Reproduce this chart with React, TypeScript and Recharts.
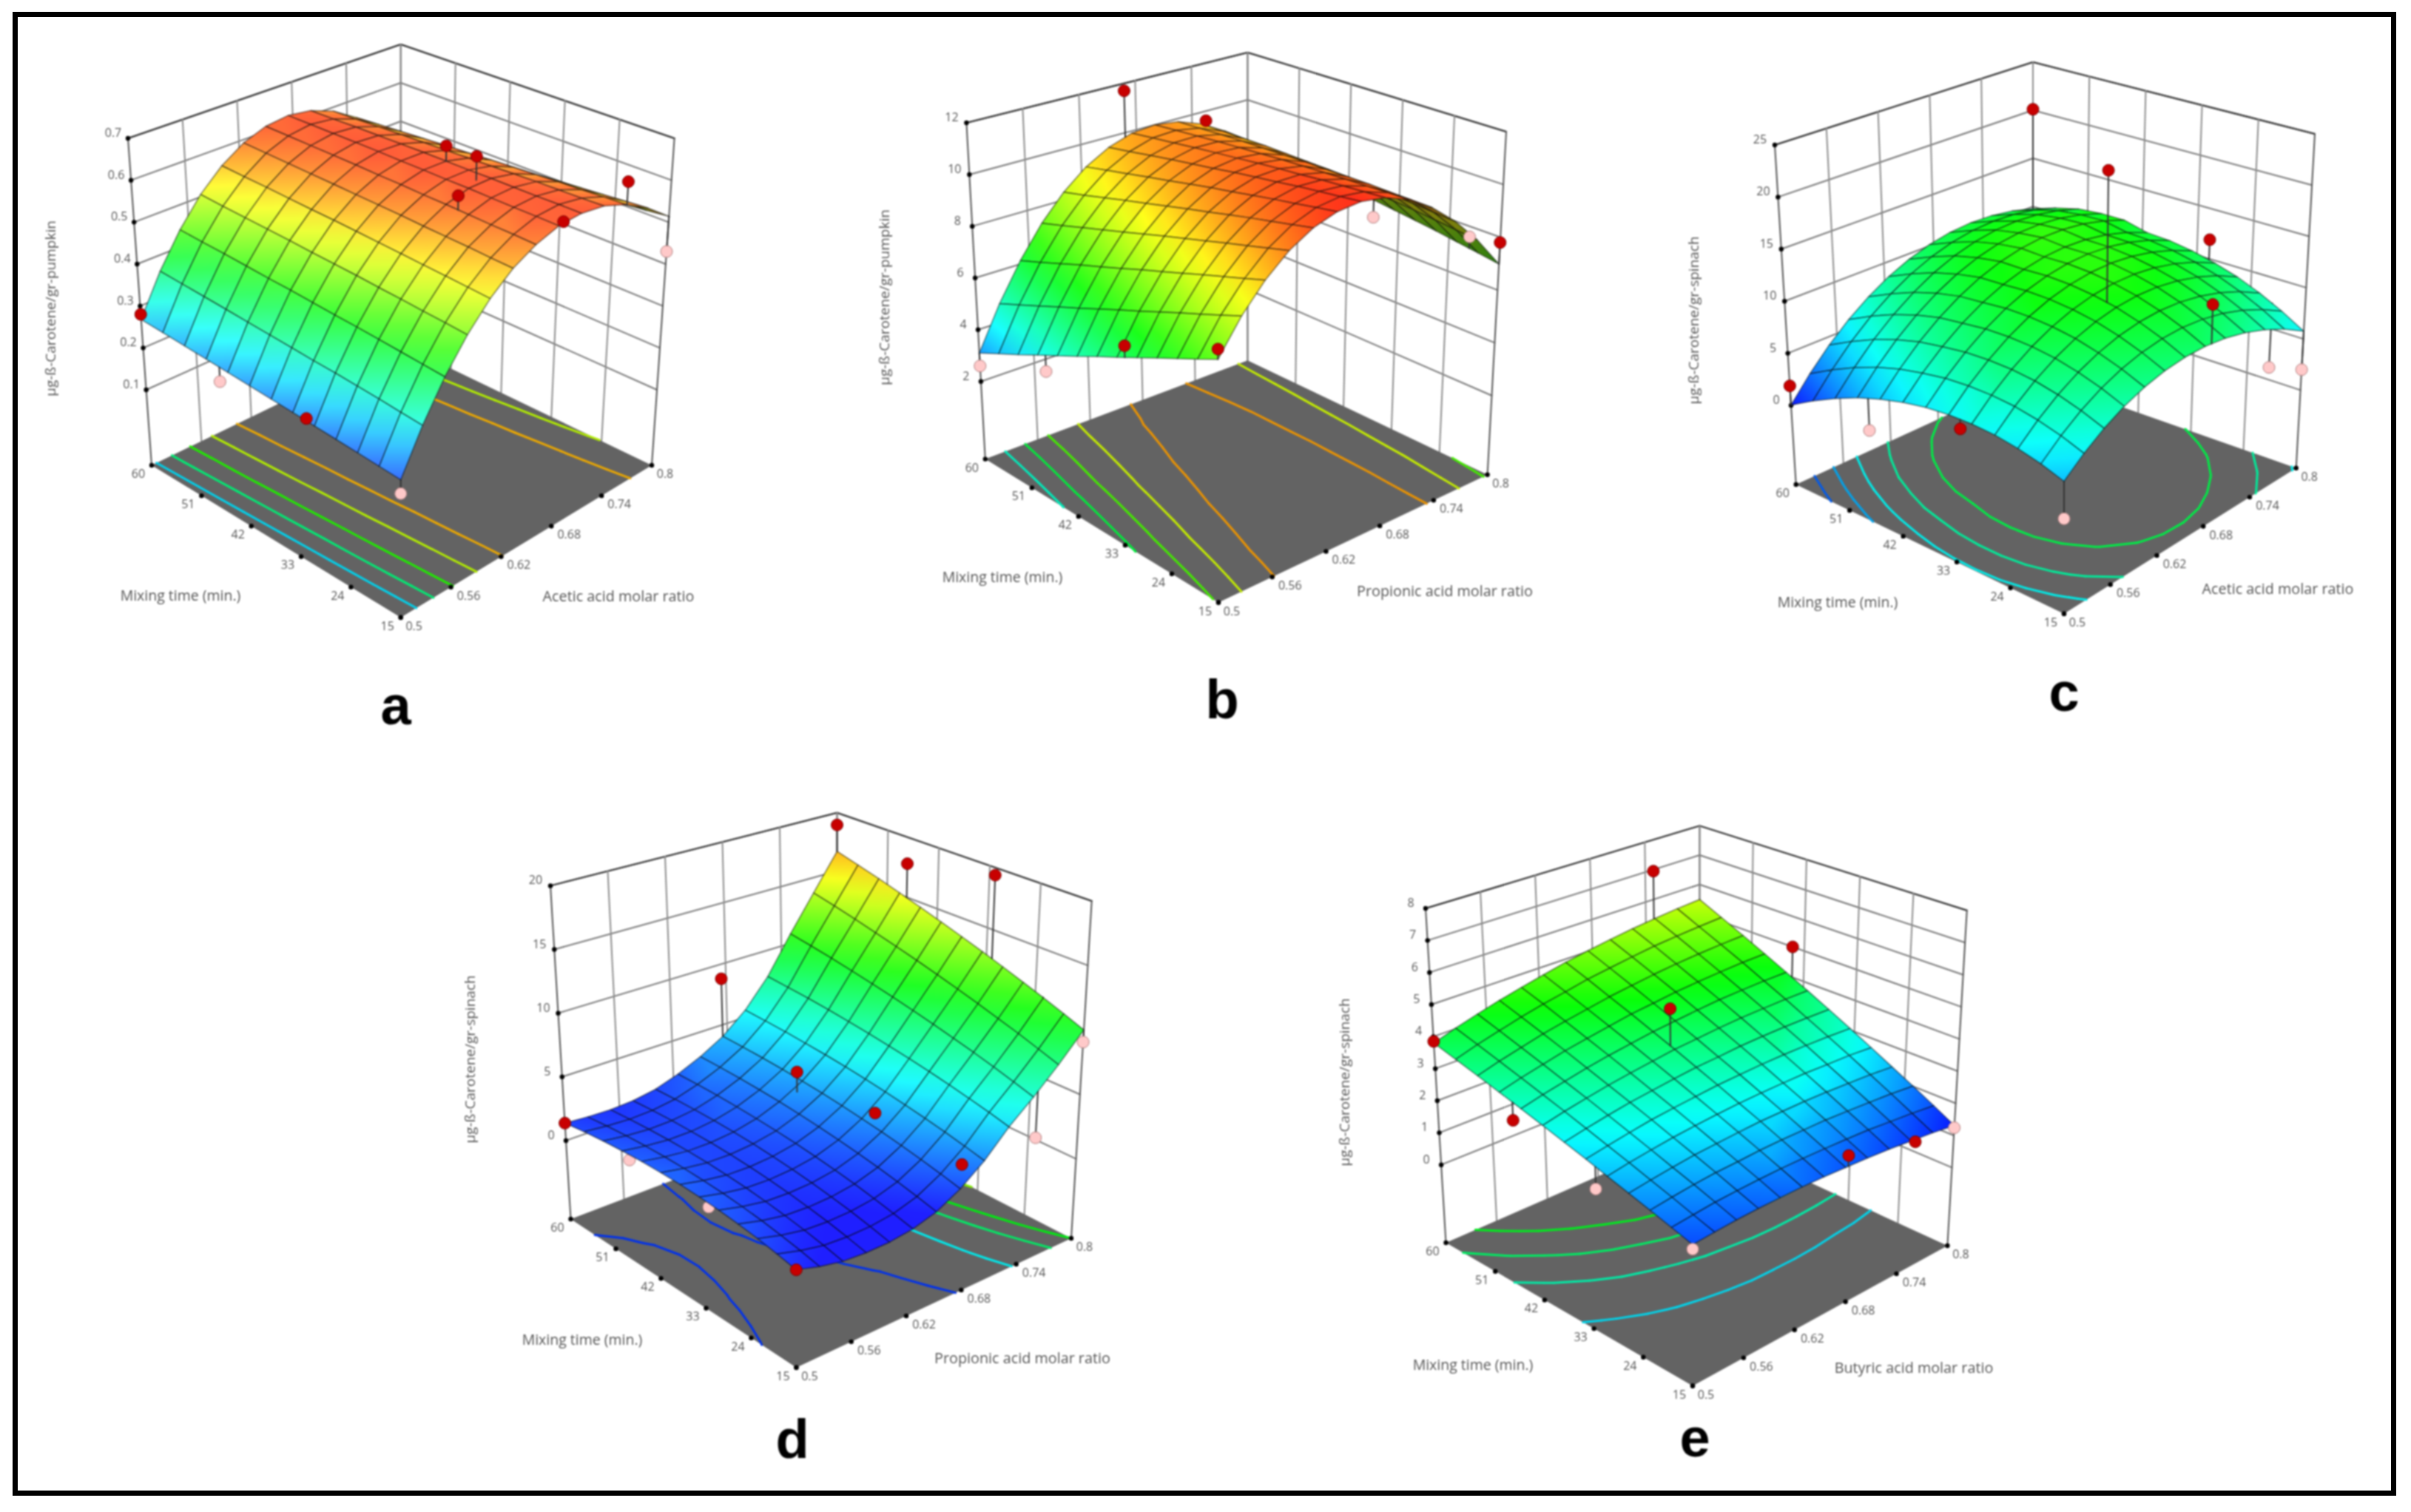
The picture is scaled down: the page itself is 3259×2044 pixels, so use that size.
import { ScatterChart, Scatter, XAxis, YAxis } from 'recharts';

const W = 3259;
const H = 2044;

// surface nodes, same for all panels
const ratioNodes = [0.5, 0.525, 0.55, 0.575, 0.6, 0.625, 0.65, 0.675, 0.7, 0.725, 0.75, 0.775, 0.8];
const timeNodes = [15, 18.75, 22.5, 26.25, 30, 33.75, 37.5, 41.25, 45, 48.75, 52.5, 56.25, 60];
const ratioTicks = [0.5, 0.56, 0.62, 0.68, 0.74, 0.8];
const ratioLabels = ['0.5', '0.56', '0.62', '0.68', '0.74', '0.8'];
const timeTicks = [15, 24, 33, 42, 51, 60];

// one row per mixing time, one column per molar ratio
const surfaceA = [
  [0.22, 0.314, 0.396, 0.465, 0.522, 0.566, 0.596, 0.615, 0.62, 0.613, 0.592, 0.559, 0.514],
  [0.224, 0.318, 0.4, 0.469, 0.525, 0.568, 0.598, 0.616, 0.62, 0.611, 0.59, 0.555, 0.508],
  [0.228, 0.323, 0.404, 0.472, 0.528, 0.571, 0.599, 0.616, 0.619, 0.61, 0.587, 0.551, 0.503],
  [0.232, 0.327, 0.408, 0.476, 0.531, 0.573, 0.601, 0.617, 0.619, 0.609, 0.585, 0.547, 0.497],
  [0.236, 0.331, 0.412, 0.479, 0.534, 0.575, 0.603, 0.618, 0.619, 0.607, 0.582, 0.543, 0.491],
  [0.24, 0.334, 0.415, 0.483, 0.537, 0.578, 0.604, 0.618, 0.618, 0.605, 0.579, 0.538, 0.485],
  [0.244, 0.338, 0.419, 0.486, 0.54, 0.58, 0.606, 0.619, 0.618, 0.603, 0.576, 0.534, 0.479],
  [0.248, 0.342, 0.423, 0.489, 0.543, 0.582, 0.607, 0.619, 0.618, 0.601, 0.572, 0.529, 0.472],
  [0.252, 0.346, 0.426, 0.493, 0.545, 0.584, 0.609, 0.62, 0.617, 0.599, 0.569, 0.524, 0.465],
  [0.256, 0.35, 0.43, 0.496, 0.548, 0.586, 0.61, 0.62, 0.616, 0.597, 0.565, 0.519, 0.458],
  [0.26, 0.354, 0.434, 0.499, 0.551, 0.588, 0.611, 0.62, 0.615, 0.595, 0.561, 0.513, 0.45],
  [0.264, 0.358, 0.437, 0.502, 0.553, 0.59, 0.612, 0.62, 0.613, 0.592, 0.557, 0.507, 0.443],
  [0.268, 0.362, 0.441, 0.506, 0.556, 0.592, 0.613, 0.62, 0.612, 0.59, 0.553, 0.501, 0.435],
];
const surfaceB = [
  [7.29, 8.48, 9.44, 10.19, 10.71, 11.01, 11.1, 10.96, 10.61, 10.03, 9.23, 8.22, 6.98],
  [6.97, 8.2, 9.19, 9.98, 10.54, 10.88, 11.0, 10.9, 10.59, 10.04, 9.28, 8.31, 7.11],
  [6.65, 7.91, 8.95, 9.77, 10.37, 10.74, 10.91, 10.84, 10.56, 10.05, 9.34, 8.4, 7.23],
  [6.33, 7.63, 8.7, 9.56, 10.2, 10.61, 10.81, 10.78, 10.54, 10.07, 9.39, 8.49, 7.36],
  [5.99, 7.33, 8.44, 9.33, 10.01, 10.46, 10.69, 10.7, 10.5, 10.07, 9.42, 8.56, 7.47],
  [5.65, 7.02, 8.17, 9.11, 9.81, 10.3, 10.58, 10.63, 10.46, 10.06, 9.46, 8.63, 7.58],
  [5.31, 6.72, 7.91, 8.88, 9.62, 10.15, 10.46, 10.55, 10.42, 10.06, 9.49, 8.7, 7.69],
  [4.95, 6.4, 7.62, 8.63, 9.41, 9.98, 10.32, 10.45, 10.36, 10.04, 9.5, 8.75, 7.78],
  [4.59, 6.07, 7.34, 8.38, 9.2, 9.8, 10.19, 10.36, 10.3, 10.02, 9.52, 8.8, 7.87],
  [4.23, 5.75, 7.06, 8.13, 8.99, 9.63, 10.05, 10.26, 10.24, 10.0, 9.54, 8.85, 7.96],
  [3.85, 5.41, 6.75, 7.87, 8.76, 9.44, 9.9, 10.14, 10.16, 9.96, 9.53, 8.89, 8.03],
  [3.48, 5.07, 6.44, 7.6, 8.53, 9.25, 9.74, 10.03, 10.08, 9.91, 9.53, 8.92, 8.1],
  [3.1, 4.73, 6.14, 7.34, 8.31, 9.06, 9.59, 9.91, 10.0, 9.87, 9.52, 8.96, 8.17],
];
const surfaceC = [
  [4.29, 5.8, 7.06, 8.07, 8.82, 9.32, 9.57, 9.57, 9.31, 8.8, 8.03, 7.02, 5.75],
  [4.96, 6.52, 7.83, 8.89, 9.69, 10.24, 10.54, 10.59, 10.38, 9.92, 9.2, 8.24, 7.02],
  [5.44, 7.06, 8.42, 9.53, 10.38, 10.98, 11.33, 11.43, 11.27, 10.86, 10.2, 9.29, 8.12],
  [5.76, 7.43, 8.84, 10.0, 10.9, 11.55, 11.95, 12.1, 11.99, 11.63, 11.02, 10.16, 9.04],
  [5.86, 7.58, 9.04, 10.25, 11.2, 11.9, 12.35, 12.55, 12.49, 12.18, 11.62, 10.81, 9.74],
  [5.79, 7.55, 9.06, 10.32, 11.33, 12.08, 12.58, 12.83, 12.83, 12.57, 12.06, 11.3, 10.28],
  [5.55, 7.36, 8.92, 10.23, 11.29, 12.09, 12.64, 12.94, 12.99, 12.78, 12.32, 11.61, 10.64],
  [5.09, 6.95, 8.56, 9.92, 11.03, 11.88, 12.48, 12.83, 12.93, 12.77, 12.36, 11.7, 10.78],
  [4.45, 6.41, 8.13, 9.59, 10.79, 11.75, 12.45, 12.9, 13.1, 13.04, 12.74, 12.17, 11.36],
  [3.64, 5.67, 7.45, 8.98, 10.25, 11.27, 12.04, 12.56, 12.82, 12.83, 12.6, 12.09, 11.35],
  [2.61, 4.71, 6.57, 8.16, 9.49, 10.59, 11.42, 12.0, 12.34, 12.41, 12.24, 11.81, 11.13],
  [1.41, 3.55, 5.46, 7.11, 8.49, 9.64, 10.52, 11.15, 11.54, 11.67, 11.54, 11.17, 10.54],
  [0.03, 2.23, 4.19, 5.88, 7.32, 8.52, 9.45, 10.13, 10.57, 10.75, 10.67, 10.35, 9.77],
];
const surfaceD = [
  [1.2, 0.65, 0.25, 0.1, 0.1, 0.3, 0.8, 1.75, 3.1, 4.9, 6.4, 8.1, 10.0],
  [1.49, 0.96, 0.57, 0.43, 0.44, 0.64, 1.15, 2.1, 3.45, 5.27, 6.86, 8.63, 10.61],
  [1.74, 1.22, 0.85, 0.72, 0.74, 0.95, 1.47, 2.41, 3.77, 5.61, 7.31, 9.16, 11.21],
  [1.93, 1.44, 1.08, 0.96, 1.0, 1.23, 1.76, 2.7, 4.06, 5.93, 7.73, 9.65, 11.79],
  [2.07, 1.61, 1.27, 1.17, 1.22, 1.47, 2.02, 2.96, 4.33, 6.22, 8.13, 10.15, 12.37],
  [2.16, 1.73, 1.42, 1.33, 1.41, 1.67, 2.25, 3.19, 4.58, 6.5, 8.52, 10.63, 12.94],
  [2.2, 1.8, 1.52, 1.45, 1.55, 1.85, 2.45, 3.4, 4.8, 6.75, 8.9, 11.1, 13.5],
  [2.19, 1.83, 1.58, 1.53, 1.66, 1.99, 2.62, 3.58, 5.0, 6.98, 9.26, 11.56, 14.05],
  [2.13, 1.81, 1.59, 1.57, 1.72, 2.1, 2.76, 3.73, 5.17, 7.19, 9.6, 12.01, 14.6],
  [2.01, 1.74, 1.56, 1.56, 1.75, 2.18, 2.86, 3.85, 5.31, 7.38, 9.93, 12.45, 15.14],
  [1.85, 1.62, 1.48, 1.52, 1.74, 2.22, 2.94, 3.95, 5.44, 7.55, 10.24, 12.89, 15.68],
  [1.64, 1.46, 1.36, 1.43, 1.69, 2.23, 2.99, 4.01, 5.53, 7.68, 10.53, 13.3, 16.19],
  [1.37, 1.25, 1.2, 1.3, 1.6, 2.2, 3.0, 4.05, 5.6, 7.8, 10.8, 13.7, 16.7],
];
const surfaceE = [
  [1.63, 1.68, 1.72, 1.74, 1.74, 1.74, 1.72, 1.68, 1.64, 1.58, 1.5, 1.42, 1.31],
  [1.81, 1.87, 1.93, 1.96, 1.98, 1.99, 1.98, 1.96, 1.93, 1.89, 1.82, 1.75, 1.66],
  [1.99, 2.07, 2.14, 2.19, 2.21, 2.24, 2.25, 2.24, 2.23, 2.19, 2.14, 2.09, 2.01],
  [2.17, 2.26, 2.34, 2.41, 2.45, 2.49, 2.52, 2.52, 2.52, 2.5, 2.46, 2.42, 2.35],
  [2.35, 2.46, 2.55, 2.63, 2.69, 2.74, 2.78, 2.8, 2.81, 2.81, 2.78, 2.76, 2.7],
  [2.54, 2.65, 2.76, 2.86, 2.93, 2.99, 3.05, 3.08, 3.11, 3.12, 3.11, 3.09, 3.05],
  [2.72, 2.85, 2.97, 3.08, 3.16, 3.24, 3.31, 3.35, 3.4, 3.42, 3.43, 3.42, 3.4],
  [2.9, 3.05, 3.18, 3.3, 3.4, 3.49, 3.58, 3.63, 3.69, 3.73, 3.75, 3.76, 3.75],
  [3.08, 3.24, 3.38, 3.52, 3.64, 3.74, 3.84, 3.91, 3.98, 4.04, 4.07, 4.09, 4.09],
  [3.26, 3.44, 3.59, 3.75, 3.87, 3.99, 4.11, 4.19, 4.28, 4.34, 4.39, 4.43, 4.44],
  [3.44, 3.63, 3.8, 3.97, 4.11, 4.24, 4.37, 4.47, 4.57, 4.65, 4.71, 4.76, 4.79],
  [3.62, 3.83, 4.01, 4.19, 4.35, 4.49, 4.64, 4.75, 4.86, 4.96, 5.03, 5.09, 5.14],
  [3.8, 4.02, 4.22, 4.41, 4.58, 4.74, 4.9, 5.03, 5.15, 5.26, 5.35, 5.43, 5.49],
];

// design points: ratio, time, response, 1 = drawn over the surface, 1 = red / 0 = pink
const pointsA = [
  [0.5, 60, 0.28, 1, 1], [0.5, 46.5, 0.22, 0, 0], [0.5, 31.4, 0.243, 1, 1], [0.5, 15, 0.19, 0, 0],
  [0.65, 28, 0.635, 1, 1], [0.68, 15, 0.62, 1, 1], [0.7, 37.5, 0.655, 1, 1], [0.69, 31, 0.675, 1, 1],
  [0.725, 48.75, 0.54, 0, 1], [0.8, 22, 0.56, 1, 1], [0.8, 15, 0.43, 0, 0],
];
const pointsB = [
  [0.668, 60, 11.7, 0, 1], [0.755, 60, 9.6, 1, 1], [0.8, 37.5, 7.0, 0, 0], [0.8, 20.4, 7.6, 1, 0],
  [0.8, 15, 7.8, 1, 1], [0.5, 32.3, 6.2, 1, 1], [0.5, 15, 7.64, 1, 1], [0.5, 60, 2.6, 0, 0], [0.5, 47.3, 3.77, 0, 0],
];
const pointsC = [
  [0.8, 60, 20.1, 0, 1], [0.65, 27.75, 24.7, 1, 1], [0.8, 31, 11.9, 0, 1], [0.683, 15, 13.2, 1, 1],
  [0.8, 20.4, 1.2, 0, 0], [0.8, 15, 2.0, 0, 0], [0.5, 15, 0.93, 0, 0], [0.5, 31.9, 4.95, 1, 1],
  [0.5, 60, 1.87, 1, 1], [0.5, 47, 1.0, 0, 0],
];
const pointsD = [
  [0.8, 60, 18.96, 0, 1], [0.8, 47.5, 17.8, 0, 1], [0.8, 32, 19.4, 0, 1], [0.675, 60, 8.8, 0, 1],
  [0.665, 44.25, 4.9, 1, 1], [0.685, 33, 3.5, 1, 1], [0.689, 17.25, 2.7, 1, 1], [0.5, 15, 1.2, 1, 1],
  [0.5, 60, 1.37, 1, 1], [0.5, 47.4, 1.65, 0, 0], [0.5, 32, 1.82, 0, 0], [0.8, 15, 9.06, 1, 0], [0.8, 22.65, 0.15, 0, 0],
];
const pointsE = [
  [0.749, 60, 6.95, 0, 1], [0.8, 44, 5.0, 0, 1], [0.65, 42, 4.8, 1, 1], [0.5, 60, 3.85, 1, 1],
  [0.5, 46.5, 2.6, 1, 1], [0.5, 32.1, 1.79, 0, 0], [0.5, 15, 1.5, 1, 0], [0.678, 15, 2.0, 1, 1],
  [0.755, 15, 1.41, 1, 1], [0.8, 15, 1.24, 1, 0],
];

const panels = [
  {
    letter: 'a', letterAt: [535, 977], surface: surfaceA, points: pointsA, zRange: [-0.08, 0.7], colorRange: [0.19, 0.64], tint: 0.22,
    zTicks: [0.1, 0.2, 0.3, 0.4, 0.5, 0.6, 0.7], levels: [0.29, 0.36, 0.43, 0.5, 0.56],
    zTitle: 'µg-ß-Carotene/gr-pumpkin', xTitle: 'Acetic acid molar ratio',
    zAt: [68, 417], timeAt: [244, 804], xAt: [836, 805],
    floor: [[541.7, 834.8], [881, 629], [205, 629], [541.7, 465.6]],
    top: [[541.7, 351], [911.6, 187], [173, 187], [541.7, 60]],
  },
  {
    letter: 'b', letterAt: [1652, 969], surface: surfaceB, points: pointsB, zRange: [-1, 12], colorRange: [1.7, 11.3], tint: 0.1,
    zTicks: [2, 4, 6, 8, 10, 12], levels: [4.6, 5.9, 7.2, 8.5, 9.8],
    zTitle: 'µg-ß-Carotene/gr-pumpkin', xTitle: 'Propionic acid molar ratio',
    zAt: [1195, 402], timeAt: [1355, 779], xAt: [1953, 798],
    floor: [[1647, 814.5], [2010.6, 641.8], [1331.8, 620.6], [1686.4, 487.3]],
    top: [[1646, 299], [2036, 178], [1306.4, 166], [1686.4, 71]],
  },
  {
    letter: 'c', letterAt: [2790, 959], surface: surfaceC, points: pointsC, zRange: [-7.6, 25], colorRange: [-0.3, 24.6], tint: 0.05,
    zTicks: [0, 5, 10, 15, 20, 25], levels: [2.1, 4, 6, 8.1, 10.3],
    zTitle: 'µg-ß-Carotene/gr-spinach', xTitle: 'Acetic acid molar ratio',
    zAt: [2289, 433], timeAt: [2484, 813], xAt: [3079, 795],
    floor: [[2790, 829.7], [3103.7, 632.7], [2427.7, 655], [2748, 508]],
    top: [[2790, 339], [3129, 181], [2399, 196], [2748, 84]],
  },
  {
    letter: 'd', letterAt: [1071, 1969], surface: surfaceD, points: pointsD, zRange: [-6.16, 20], colorRange: [0.7, 20], tint: 0.12,
    zTicks: [0, 5, 10, 15, 20], levels: [1.7, 5.5, 8.3, 10, 13],
    zTitle: 'µg-ß-Carotene/gr-spinach', xTitle: 'Propionic acid molar ratio',
    zAt: [635, 1432], timeAt: [787, 1810], xAt: [1382, 1835],
    floor: [[1076.4, 1848.8], [1448, 1674], [771.5, 1648], [1131.5, 1511]],
    top: [[1076, 1379], [1475.7, 1218], [744, 1197.4], [1131.5, 1098.8]],
  },
  {
    letter: 'e', letterAt: [2291, 1967], surface: surfaceE, points: pointsE, zRange: [-2.43, 8], colorRange: [1.2, 7.4], tint: 0.03,
    zTicks: [0, 1, 2, 3, 4, 5, 6, 7, 8], levels: [2.6, 3.2, 3.65, 4.1],
    zTitle: 'µg-ß-Carotene/gr-spinach', xTitle: 'Butyric acid molar ratio',
    zAt: [1817, 1463], timeAt: [1991, 1844], xAt: [2587, 1848],
    floor: [[2288, 1873.5], [2632.4, 1684], [1954.5, 1680], [2297.5, 1530]],
    top: [[2288, 1383], [2658.7, 1230.8], [1927, 1228], [2297.4, 1116.4]],
  },
];

const ramp = [[0, 0, 255], [0, 255, 255], [0, 255, 0], [255, 255, 0], [255, 0, 0]];

function colorAt(t: number, dim = 1, tint = 0) {
  const s = Math.max(0, Math.min(0.9999, t)) * 4;
  const i = Math.floor(s);
  const f = s - i;
  const c = ramp[i].map((a, k) => Math.round((a + (ramp[i + 1][k] - a) * f + (255 - (a + (ramp[i + 1][k] - a) * f)) * tint) * dim));
  return `rgb(${c[0]},${c[1]},${c[2]})`;
}

function bilinear(c: number[][], u: number, v: number) {
  return [0, 1].map(
    (k) => c[0][k] * (1 - u) * (1 - v) + c[1][k] * u * (1 - v) + c[2][k] * (1 - u) * v + c[3][k] * u * v,
  );
}

// one panel to page coordinates, corners of its box
function projector(p: any) {
  return (ratio: number, time: number, value: number) => {
    const u = (ratio - 0.5) / 0.3;
    const v = (time - 15) / 45;
    const w = (value - p.zRange[0]) / (p.zRange[1] - p.zRange[0]);
    const a = bilinear(p.floor, u, v);
    const b = bilinear(p.top, u, v);
    return [a[0] + (b[0] - a[0]) * w, a[1] + (b[1] - a[1]) * w];
  };
}

function seg(a: number[], b: number[], stroke: string, width: number) {
  return { x: a[0], y: a[1], dx: b[0] - a[0], dy: b[1] - a[1], stroke, width };
}

function signedArea(q: number[][]) {
  let s = 0;
  q.forEach((a, i) => {
    const b = q[(i + 1) % q.length];
    s += a[0] * b[1] - b[0] * a[1];
  });
  return s;
}

function surfaceAt(p: any, ratio: number, time: number) {
  const a = (ratio - 0.5) / 0.025;
  const b = (time - 15) / 3.75;
  const i = Math.min(11, Math.floor(a));
  const j = Math.min(11, Math.floor(b));
  const f = a - i;
  const g = b - j;
  const r = p.surface;
  return r[j][i] * (1 - f) * (1 - g) + r[j][i + 1] * f * (1 - g) + r[j + 1][i] * (1 - f) * g + r[j + 1][i + 1] * f * g;
}

function buildPanel(p: any) {
  const pr = projector(p);
  const [z0, z1] = p.zRange;
  const tVal = (z: number) => (z - p.colorRange[0]) / (p.colorRange[1] - p.colorRange[0]);
  const color = (z: number, dim = 1) => colorAt(tVal(z), dim, p.tint);

  // walls
  const walls: any[] = [];
  const texts: any[] = [];
  const dots: any[] = [];
  p.zTicks.concat([z0, z1]).forEach((z: number) => {
    const col = z === z1 ? '#3a3a3a' : '#777';
    if (z !== z0) {
      walls.push(seg(pr(0.5, 60, z), pr(0.8, 60, z), col, 2));
      walls.push(seg(pr(0.8, 60, z), pr(0.8, 15, z), col, 2));
    }
  });
  ratioTicks.forEach((r) => walls.push(seg(pr(r, 60, z0), pr(r, 60, z1), r === 0.5 || r === 0.8 ? '#555' : '#8c8c8c', 2)));
  timeTicks.forEach((t) => walls.push(seg(pr(0.8, t, z0), pr(0.8, t, z1), t === 15 ? '#555' : '#8c8c8c', 2)));

  p.zTicks.forEach((z: number) => {
    const a = pr(0.5, 60, z);
    dots.push({ x: a[0], y: a[1], r: 3.2, fill: '#000', stroke: 'none' });
    texts.push({ x: a[0] - 20, y: a[1] - 8, text: String(z), size: 16 });
  });
  timeTicks.forEach((t) => {
    const a = pr(0.5, t, z0);
    dots.push({ x: a[0], y: a[1], r: 3.2, fill: '#000', stroke: 'none' });
    texts.push({ x: a[0] - 18, y: a[1] + 11, text: String(t), size: 16 });
  });
  ratioTicks.forEach((r, i) => {
    const a = pr(r, 15, z0);
    dots.push({ x: a[0], y: a[1], r: 3.2, fill: '#000', stroke: 'none' });
    texts.push({ x: a[0] + (i === 0 || i === 5 ? 18 : 24), y: a[1] + 11, text: ratioLabels[i], size: 16 });
  });
  texts.push({ x: p.zAt[0], y: p.zAt[1], text: p.zTitle, size: 19, rotate: -90 });
  texts.push({ x: p.timeAt[0], y: p.timeAt[1], text: 'Mixing time (min.)', size: 19.5 });
  texts.push({ x: p.xAt[0], y: p.xAt[1], text: p.xTitle, size: 19.8 });
  texts.push({
    x: p.letterAt[0], y: p.letterAt[1] - 24, text: p.letter, size: 74, weight: 700, fill: '#000', family: 'Liberation Sans',
  });

  const floorPts = [pr(0.5, 15, z0), pr(0.8, 15, z0), pr(0.8, 60, z0), pr(0.5, 60, z0)];
  const floorSign = Math.sign(signedArea(floorPts));
  const floor = [{
    x: floorPts[0][0], y: floorPts[0][1],
    pts: floorPts.map((q) => [q[0] - floorPts[0][0], q[1] - floorPts[0][1]]),
    fill: '#636363', stroke: 'none',
  }];

  // contour lines on the floor, from the surface values
  const contours: any[] = [];
  p.levels.forEach((lv: number) => {
    const col = colorAt(tVal(lv), 0.92);
    for (let j = 0; j < 12; j++) {
      for (let i = 0; i < 12; i++) {
        const cell = [
          [ratioNodes[i], timeNodes[j], p.surface[j][i]],
          [ratioNodes[i + 1], timeNodes[j], p.surface[j][i + 1]],
          [ratioNodes[i + 1], timeNodes[j + 1], p.surface[j + 1][i + 1]],
          [ratioNodes[i], timeNodes[j + 1], p.surface[j + 1][i]],
        ];
        const cross: number[][] = [];
        cell.forEach((a, k) => {
          const b = cell[(k + 1) % 4];
          if (a[2] >= lv !== b[2] >= lv) {
            const f = (lv - a[2]) / (b[2] - a[2]);
            cross.push(pr(a[0] + (b[0] - a[0]) * f, a[1] + (b[1] - a[1]) * f, z0));
          }
        });
        if (cross.length >= 2) contours.push(seg(cross[0], cross[1], col, 3));
        if (cross.length === 4) contours.push(seg(cross[2], cross[3], col, 3));
      }
    }
  });

  // surface cells, far corner first
  const cells: any[] = [];
  for (let j = 0; j < 12; j++) {
    for (let i = 0; i < 12; i++) {
      const zs = [p.surface[j][i], p.surface[j][i + 1], p.surface[j + 1][i + 1], p.surface[j + 1][i]];
      const q = [
        pr(ratioNodes[i], timeNodes[j], zs[0]),
        pr(ratioNodes[i + 1], timeNodes[j], zs[1]),
        pr(ratioNodes[i + 1], timeNodes[j + 1], zs[2]),
        pr(ratioNodes[i], timeNodes[j + 1], zs[3]),
      ];
      const under = Math.sign(signedArea(q)) !== floorSign;
      const dim = under ? 0.5 : 1;
      const lo = zs.indexOf(Math.min(...zs));
      const hi = zs.indexOf(Math.max(...zs));
      cells.push({
        order: i + j,
        x: q[0][0], y: q[0][1],
        pts: q.map((c) => [c[0] - q[0][0], c[1] - q[0][1]]),
        grad: {
          from: [q[lo][0] - q[0][0], q[lo][1] - q[0][1]],
          to: [q[hi][0] - q[0][0], q[hi][1] - q[0][1]],
          stops: [color(zs[lo], dim), color((zs[lo] + zs[hi]) / 2, dim), color(zs[hi], dim)],
        },
        stroke: 'rgba(0,0,0,0.5)',
      });
    }
  }
  cells.sort((a, b) => b.order - a.order);

  // design points with their pins
  const makePoints = (front: number) => {
    const pins: any[] = [];
    const balls: any[] = [];
    p.points.filter((d: number[]) => d[3] === front).forEach((d: number[]) => {
      const z = surfaceAt(p, d[0], d[1]);
      const a = pr(d[0], d[1], d[2]);
      pins.push(seg(a, pr(d[0], d[1], z), '#333', 2));
      balls.push({
        x: a[0], y: a[1], r: 8,
        fill: d[4] ? '#c80000' : '#ffc9c9',
        stroke: d[4] ? '#7a0000' : '#b08080',
      });
    });
    return { pins, balls };
  };

  return { walls, floor, contours, dots, texts, cells, back: makePoints(0), front: makePoints(1) };
}

function LineMark(props: any) {
  const d = props.payload;
  return <line x1={props.cx} y1={props.cy} x2={props.cx + d.dx} y2={props.cy + d.dy} stroke={d.stroke} strokeWidth={d.width} strokeLinecap="round" />;
}

function DotMark(props: any) {
  const d = props.payload;
  return <circle cx={props.cx} cy={props.cy} r={d.r} fill={d.fill} stroke={d.stroke} strokeWidth={1} />;
}

function TextMark(props: any) {
  const d = props.payload;
  return (
    <text
      x={props.cx}
      y={props.cy}
      fontSize={d.size}
      fontWeight={d.weight || 400}
      fontFamily={d.family || 'Open Sans'}
      fill={d.fill || '#555'}
      textAnchor="middle"
      dominantBaseline="central"
      transform={d.rotate ? `rotate(${d.rotate} ${props.cx} ${props.cy})` : undefined}
    >
      {d.text}
    </text>
  );
}

let gradCount = 0;
function CellMark(props: any) {
  const d = props.payload;
  const points = d.pts.map((q: number[]) => `${props.cx + q[0]},${props.cy + q[1]}`).join(' ');
  if (!d.grad) return <polygon points={points} fill={d.fill} stroke={d.stroke} />;
  const id = `cell-${gradCount++}`;
  return (
    <g>
      <linearGradient
        id={id}
        gradientUnits="userSpaceOnUse"
        x1={props.cx + d.grad.from[0]}
        y1={props.cy + d.grad.from[1]}
        x2={props.cx + d.grad.to[0]}
        y2={props.cy + d.grad.to[1]}
      >
        <stop offset="0%" stopColor={d.grad.stops[0]} />
        <stop offset="50%" stopColor={d.grad.stops[1]} />
        <stop offset="100%" stopColor={d.grad.stops[2]} />
      </linearGradient>
      <polygon points={points} fill={`url(#${id})`} stroke={d.stroke} strokeWidth={1.5} strokeLinejoin="round" />
    </g>
  );
}

const layers = panels.map(buildPanel);

export default function App() {
  const series: any[] = [];
  layers.forEach((l, n) => {
    const add = (name: string, data: any[], shape: any) =>
      series.push(<Scatter key={`${n}-${name}`} data={data} shape={shape} isAnimationActive={false} />);
    add('walls', l.walls, LineMark);
    add('floor', l.floor, CellMark);
    add('contours', l.contours, LineMark);
    add('dots', l.dots, DotMark);
    add('backPins', l.back.pins, LineMark);
    add('backBalls', l.back.balls, DotMark);
    add('cells', l.cells, CellMark);
    add('frontPins', l.front.pins, LineMark);
    add('frontBalls', l.front.balls, DotMark);
    add('texts', l.texts, TextMark);
  });

  return (
    <div style={{ position: 'absolute', left: 0, top: 0, width: W, height: H, background: '#fff', overflow: 'hidden' }}>
      <div style={{ position: 'absolute', left: 0, top: 0, filter: 'blur(0.9px)' }}>
        <ScatterChart width={W} height={H} margin={{ top: 0, right: 0, bottom: 0, left: 0 }}>
          <XAxis type="number" dataKey="x" domain={[0, W]} hide />
          <YAxis type="number" dataKey="y" domain={[0, H]} reversed hide />
          {series}
        </ScatterChart>
      </div>
      <div style={{ position: 'absolute', left: 17, top: 16, width: 3222, height: 2006, border: '7px solid #000', boxSizing: 'border-box' }} />
    </div>
  );
}
